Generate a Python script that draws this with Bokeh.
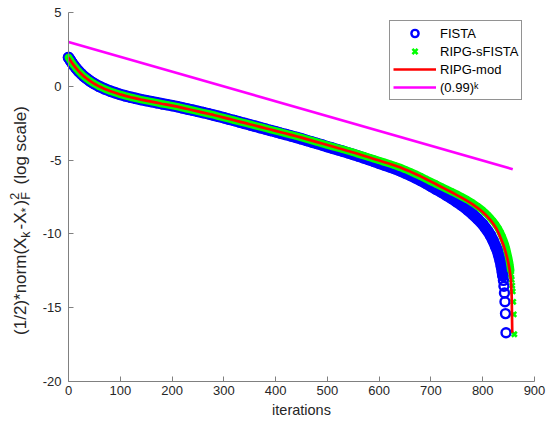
import math
from bokeh.plotting import figure
from bokeh.models import Legend, LegendItem, Label, FixedTicker
from bokeh.embed import file_html
from bokeh.resources import INLINE

# ---------------- data ----------------
body_k = [0, 2, 4, 6, 8, 10, 15, 20, 25, 30, 35, 40, 45, 50,
          60, 70, 80, 90, 100, 110, 120, 130, 140, 150, 160, 170, 180, 190,
          200, 210, 220, 230, 240, 250, 260, 270, 280, 290, 300, 310, 320,
          330, 340, 350, 360, 370, 380, 390, 400, 410, 420, 430, 440, 450,
          460, 470, 480, 490, 500, 510, 520, 530, 540, 550, 560, 570, 580,
          590, 600, 610, 620, 630, 640, 650, 660, 670, 680, 690, 700, 710,
          720, 730, 740, 750, 760, 770, 780, 790, 800]

mod_body = [1.95, 1.85, 1.74, 1.63, 1.53, 1.43, 1.21, 1.01, 0.83, 0.67, 0.53, 0.40, 0.28, 0.17,
            -0.02, -0.18, -0.32, -0.44, -0.55, -0.65, -0.74, -0.82, -0.90, -0.97, -1.04, -1.11, -1.18, -1.24,
            -1.31, -1.38, -1.46, -1.54, -1.62, -1.70, -1.78, -1.86, -1.94, -2.03, -2.12, -2.21, -2.30,
            -2.39, -2.48, -2.57, -2.66, -2.75, -2.84, -2.93, -3.02, -3.11, -3.20, -3.29, -3.38, -3.48,
            -3.58, -3.68, -3.78, -3.88, -3.98, -4.08, -4.18, -4.28, -4.38, -4.48, -4.59, -4.70, -4.81,
            -4.92, -5.03, -5.14, -5.25, -5.37, -5.49, -5.63, -5.78, -5.94, -6.10, -6.28, -6.46, -6.64,
            -6.82, -7.00, -7.18, -7.37, -7.56, -7.76, -7.98, -8.24, -8.52]

sfista_body = [1.95, 1.85, 1.74, 1.63, 1.53, 1.43, 1.21, 1.01, 0.83, 0.67, 0.53, 0.40, 0.28, 0.17,
               -0.02, -0.18, -0.32, -0.44, -0.55, -0.65, -0.74, -0.82, -0.90, -0.97, -1.04, -1.11, -1.18, -1.24,
               -1.31, -1.38, -1.46, -1.54, -1.62, -1.70, -1.78, -1.86, -1.94, -2.03, -2.12, -2.21, -2.30,
               -2.39, -2.48, -2.57, -2.66, -2.75, -2.84, -2.93, -3.02, -3.11, -3.20, -3.29, -3.38, -3.48,
               -3.58, -3.68, -3.78, -3.88, -3.98, -4.08, -4.18, -4.28, -4.38, -4.48, -4.59, -4.70, -4.81,
               -4.92, -5.03, -5.14, -5.25, -5.37, -5.49, -5.63, -5.78, -5.94, -6.10, -6.28, -6.46, -6.62,
               -6.79, -6.96, -7.13, -7.31, -7.49, -7.68, -7.89, -8.13, -8.40]

fista_body = [1.95, 1.85, 1.74, 1.63, 1.53, 1.43, 1.21, 1.01, 0.83, 0.67, 0.53, 0.40, 0.28, 0.17,
              -0.02, -0.18, -0.32, -0.44, -0.55, -0.65, -0.74, -0.82, -0.90, -0.97, -1.04, -1.11, -1.18, -1.24,
              -1.31, -1.38, -1.46, -1.54, -1.62, -1.70, -1.78, -1.86, -1.95, -2.04, -2.13, -2.23, -2.32,
              -2.42, -2.51, -2.61, -2.70, -2.80, -2.89, -2.99, -3.08, -3.18, -3.27, -3.37, -3.46, -3.56,
              -3.67, -3.77, -3.88, -3.98, -4.09, -4.19, -4.30, -4.40, -4.51, -4.62, -4.73, -4.85, -4.97,
              -5.09, -5.21, -5.33, -5.45, -5.58, -5.72, -5.87, -6.03, -6.20, -6.38, -6.57, -6.77, -6.97,
              -7.17, -7.38, -7.60, -7.83, -8.08, -8.35, -8.65, -8.98, -9.35]

fista_tail_k = [805, 810, 815, 820, 825, 828, 831, 834, 836, 838, 839, 840, 841, 842, 843, 844, 845]
fista_tail = [-9.58, -9.82, -10.10, -10.45, -10.85, -11.10, -11.45, -11.85, -12.20, -12.60,
              -12.85, -13.15, -13.55, -14.00, -14.60, -15.40, -16.70]

sfista_tail_k = [805, 810, 815, 820, 825, 830, 834, 838, 841, 844, 846, 848, 850, 852, 853,
                 854, 855, 856, 857, 858, 859, 860, 861]
sfista_tail = [-8.56, -8.73, -8.92, -9.12, -9.35, -9.62, -9.88, -10.18, -10.45, -10.75, -11.00,
               -11.30, -11.60, -11.95, -12.20, -12.45, -12.75, -13.10, -13.50, -13.90, -14.60,
               -15.45, -16.80]

mod_tail_k = [805, 810, 815, 820, 825, 828, 832, 836, 840, 844, 847, 850, 852, 854, 855, 856, 857]
mod_tail = [-8.68, -8.86, -9.06, -9.30, -9.56, -9.75, -10.05, -10.40, -10.75, -11.20, -11.60,
            -12.05, -12.45, -12.95, -13.40, -14.30, -16.70]

rate_k = [0, 858]
rate_v = [3.0, -5.62]

series_names = ["FISTA", "RIPG-sFISTA", "RIPG-mod", "(0.99)\u1d4f"]
x_ticks = [0, 100, 200, 300, 400, 500, 600, 700, 800, 900]
y_ticks = [-20, -15, -10, -5, 0, 5]
y_tick_labels = ["-20", "-15", "-10", "-5", "0", "5"]
x_label = "iterations"

# ---------------- figure ----------------
FONT = "Liberation Sans"
TXT = "#262626"
W_PX, H_PX = 551, 423
AX_L, AX_R, AX_T, AX_B = 68, 534, 12, 381        # axes box in canvas pixels
FR_L, FR_R, FR_T, FR_B = 2, 549, 2, 421          # frame covers the labels too
X0, X1, Y0, Y1 = 0, 900, -20, 5
xs = (X1 - X0) / (AX_R - AX_L)                   # data units per pixel
ys = (Y1 - Y0) / (AX_B - AX_T)

p = figure(width=W_PX, height=H_PX,
           x_range=(X0 - (AX_L - FR_L) * xs, X1 + (FR_R - AX_R) * xs),
           y_range=(Y0 - (FR_B - AX_B) * ys, Y1 + (AX_T - FR_T) * ys),
           output_backend="svg", toolbar_location=None,
           min_border_left=FR_L, min_border_right=W_PX - FR_R,
           min_border_top=FR_T, min_border_bottom=H_PX - FR_B)
p.grid.visible = False
p.outline_line_color = None
p.background_fill_color = "white"
p.border_fill_color = "white"

fk = body_k + fista_tail_k
fv = fista_body + fista_tail
sk = body_k + sfista_tail_k
sv = sfista_body + sfista_tail
mk = body_k + mod_tail_k
mv = mod_body + mod_tail

# dense markers in the original merge into bands: draw the band, then the markers
n_fb = len(body_k) + 11
n_sb = len(body_k) + 16
r_fband = p.line(fk[:n_fb], fv[:n_fb], line_color="#0000ff", line_width=11.5,
                 line_cap="round", line_join="round")
r_fista = p.scatter(fk, fv, marker="circle", size=9, fill_color=None,
                    line_color="#0000ff", line_width=2.4)
r_sband = p.line(sk[:n_sb], sv[:n_sb], line_color="#00ff00", line_width=7.5,
                 line_cap="round", line_join="round")
r_sfista = p.scatter(sk, sv, marker="x", size=7, line_color="#00ff00", line_width=2.6)
r_mod = p.line(mk, mv, line_color="#ff0000", line_width=2.7)
r_rate = p.line(rate_k, rate_v, line_color="#ff00ff", line_width=2.7)

for ax, ticks in ((p.xaxis, x_ticks), (p.yaxis, y_ticks)):
    ax.ticker = FixedTicker(ticks=ticks)
    ax.major_tick_in = 5
    ax.major_tick_out = 0
    ax.minor_tick_in = 0
    ax.minor_tick_out = 0
    ax.axis_line_color = "#808080"
    ax.major_tick_line_color = "#808080"
    ax.major_label_text_font = FONT
    ax.major_label_text_font_size = "13px"
    ax.major_label_text_color = TXT

p.yaxis.fixed_location = X0
p.yaxis.bounds = (Y0, Y1)
p.xaxis.fixed_location = Y0
p.xaxis.bounds = (X0, X1)
p.xaxis.major_label_overrides = {t: str(t) for t in x_ticks}
p.yaxis.major_label_overrides = {t: l for t, l in zip(y_ticks, y_tick_labels)}
p.xaxis.major_label_standoff = 4
p.yaxis.major_label_standoff = 7
p.xaxis.axis_label = x_label
p.xaxis.axis_label_text_font = FONT
p.xaxis.axis_label_text_font_size = "14.5px"
p.xaxis.axis_label_text_font_style = "normal"
p.xaxis.axis_label_text_color = TXT
p.xaxis.axis_label_standoff = 4

# ---------------- y label with sub/superscripts ----------------
def px_to_x(px):
    return X0 + (px - AX_L) * xs

def px_to_y(py):
    return Y1 - (py - AX_T) * ys

W = {'(': .333, '1': .556, '/': .278, '2': .556, ')': .333, '*': .389, 'n': .556,
     'o': .556, 'r': .333, 'm': .833, 'X': .667, '-': .333, 'k': .5, 'F': .611,
     ' ': .278, 'l': .222, 'g': .556, 's': .5, 'c': .5, 'a': .556, 'e': .556}

def tw(s, size):
    return sum(W.get(c, .556) for c in s) * size

F = 17.0
S = 12.5
pieces = [  # (text, size, shift, extra gap after) ; shift>0 = superscript, <0 = subscript
    [("(1/2)*norm(X", F, 0, 0)],
    [("k", S, -5.5, 2)],
    [("-X", F, 0, 0)],
    [("*", S, -5.5, 2)],
    [(")", F, 0, 0)],
    [("2", S, 6.5, 3), ("F", S, -5.5, 3)],
    [("(log scale)", F, 0, 0)],
]

def adv_of(grp):
    return max(tw(t, s) + g for t, s, _, g in grp)

total = sum(adv_of(grp) for grp in pieces) + tw(" ", F)
center_py = 220
label_px = 20
cur = center_py + total / 2     # canvas y of the text start (bottom)
for i, grp in enumerate(pieces):
    if i == len(pieces) - 1:
        cur -= tw(" ", F)
    for t, s, sh, _ in grp:
        p.add_layout(Label(x=px_to_x(label_px - sh), y=px_to_y(cur),
                           x_units="data", y_units="data", text=t,
                           angle=math.pi / 2, text_font=FONT,
                           text_font_size=f"{s}px", text_color=TXT,
                           text_align="left", text_baseline="middle"))
    cur -= adv_of(grp)

# ---------------- legend ----------------
legend = Legend(items=[LegendItem(label=series_names[0], renderers=[r_fista]),
                       LegendItem(label=series_names[1], renderers=[r_sfista]),
                       LegendItem(label=series_names[2], renderers=[r_mod]),
                       LegendItem(label=series_names[3], renderers=[r_rate])],
                location=(389 - FR_L, FR_B - 100))
legend.border_line_color = TXT
legend.border_line_width = 1
legend.background_fill_color = "white"
legend.background_fill_alpha = 1
legend.label_text_font = FONT
legend.label_text_font_size = "13px"
legend.label_text_color = "black"
legend.glyph_width = 43
legend.glyph_height = 18
legend.label_height = 18
legend.spacing = 0
legend.padding = 3
legend.margin = 0
legend.label_standoff = 4
p.add_layout(legend)

open("out.html", "w").write(file_html(p, INLINE))
